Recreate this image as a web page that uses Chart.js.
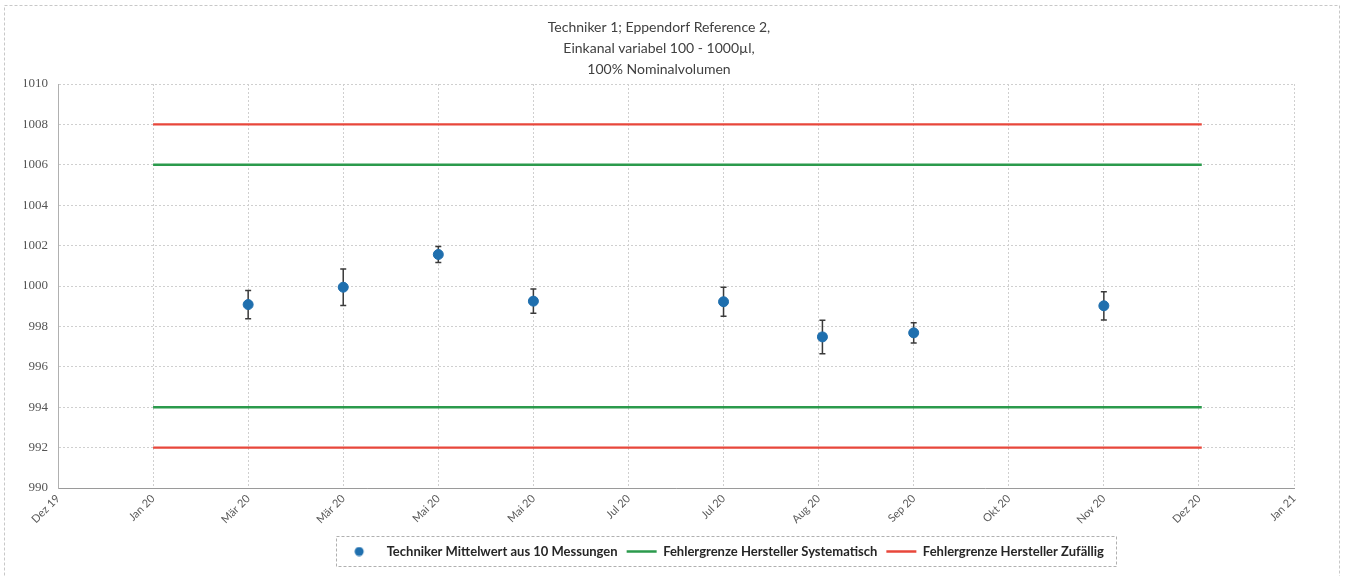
<!DOCTYPE html>
<html lang="de">
<head>
    <meta charset="UTF-8">
    <title>Techniker 1 - Eppendorf Reference 2</title>
    <style>
        body {
            margin: 0;
            padding: 0;
            background: #fff;
        }
        #chartBox {
            width: 1353px;
            height: 576px;
        }
    </style>
</head>
<body>
    <div id="chartBox">
        <canvas id="pipetteChart"></canvas>
    </div>
    <script src="https://cdn.jsdelivr.net/npm/chart.js"></script>
    <script>
        // x axis tick labels (one per major unit)
        const tickLabels = ['Dez 19', 'Jan 20', 'Mär 20', 'Mär 20', 'Mai 20', 'Mai 20', 'Jul 20',
            'Jul 20', 'Aug 20', 'Sep 20', 'Okt 20', 'Nov 20', 'Dez 20', 'Jan 21'];

        // measurement positions (in tick units) and values
        const measX = [2, 3, 4, 5, 7, 8.04, 9, 11];
        const measMean = [999.08, 999.94, 1001.56, 999.25, 999.22, 997.48, 997.68, 999.02];
        const measErr = [0.7, 0.9, 0.4, 0.6, 0.72, 0.83, 0.5, 0.7];

        // manufacturer limits
        const limitStart = 1;
        const limitEnd = 12.03;
        const sysLimits = [1006, 994];
        const randLimits = [1008, 992];

        const blue = '#1f6fae';
        const green = '#2b9a4c';
        const red = '#e8473b';

        function limitData(values) {
            const pts = [];
            values.forEach((v, i) => {
                if (i > 0) pts.push({ x: limitEnd, y: null });
                pts.push({ x: limitStart, y: v }, { x: limitEnd, y: v });
            });
            return pts;
        }

        // small round marker for the legend, drawn at the left of its box
        const dot = document.createElement('canvas');
        dot.width = 22;
        dot.height = 10;
        const dctx = dot.getContext('2d');
        dctx.fillStyle = blue;
        dctx.beginPath();
        dctx.arc(5, 5, 4.5, 0, Math.PI * 2);
        dctx.fill();

        const errorBars = {
            id: 'errorBars',
            beforeDatasetsDraw(chart) {
                const { ctx, scales } = chart;
                ctx.save();
                ctx.strokeStyle = '#3a3a3a';
                ctx.lineWidth = 1.5;
                measX.forEach((xv, i) => {
                    const x = scales.x.getPixelForValue(xv);
                    const yTop = scales.y.getPixelForValue(measMean[i] + measErr[i]);
                    const yBot = scales.y.getPixelForValue(measMean[i] - measErr[i]);
                    ctx.beginPath();
                    ctx.moveTo(x, yTop);
                    ctx.lineTo(x, yBot);
                    ctx.moveTo(x - 3, yTop);
                    ctx.lineTo(x + 3, yTop);
                    ctx.moveTo(x - 3, yBot);
                    ctx.lineTo(x + 3, yBot);
                    ctx.stroke();
                });
                ctx.restore();
            }
        };

        // legend sits right of centre in the original
        const legendShift = {
            id: 'legendShift',
            afterLayout(chart) {
                chart.legend.left += 68;
                chart.legend.right += 68;
            }
        };

        const frame = {
            id: 'frame',
            afterDraw(chart) {
                const { ctx, legend } = chart;
                ctx.save();
                ctx.strokeStyle = '#c8c8c8';
                ctx.lineWidth = 1;
                ctx.setLineDash([3, 2]);
                ctx.strokeRect(4.5, 5.5, 1335, 580);
                // box around legend items
                const boxes = legend.legendHitBoxes;
                if (boxes && boxes.length) {
                    const left = Math.min(...boxes.map(b => b.left)) + 8 - 22;
                    const right = Math.max(...boxes.map(b => b.left + b.width)) + 12;
                    const top = boxes[0].top - 9;
                    const h = boxes[0].height + 17;
                    ctx.strokeStyle = '#b0b0b0';
                    ctx.strokeRect(Math.round(left) + 0.5, Math.round(top) + 0.5, Math.round(right - left), Math.round(h));
                }
                ctx.restore();
            }
        };

        new Chart(document.getElementById('pipetteChart'), {
            type: 'scatter',
            data: {
                datasets: [
                    {
                        label: 'Techniker Mittelwert aus 10 Messungen',
                        data: measX.map((x, i) => ({ x: x, y: measMean[i] })),
                        backgroundColor: blue,
                        borderColor: blue,
                        pointRadius: 5,
                        pointStyle: 'circle'
                    },
                    {
                        label: 'Fehlergrenze Hersteller Systematisch',
                        data: limitData(sysLimits),
                        showLine: true,
                        spanGaps: false,
                        borderColor: green,
                        backgroundColor: green,
                        borderWidth: 2.5,
                        pointRadius: 0,
                        pointStyle: 'line'
                    },
                    {
                        label: 'Fehlergrenze Hersteller Zufällig',
                        data: limitData(randLimits),
                        showLine: true,
                        spanGaps: false,
                        borderColor: red,
                        backgroundColor: red,
                        borderWidth: 2.2,
                        pointRadius: 0,
                        pointStyle: 'line'
                    }
                ]
            },
            options: {
                responsive: true,
                maintainAspectRatio: false,
                animation: false,
                layout: {
                    padding: { left: 24, right: 59, top: 0, bottom: 8 }
                },
                plugins: {
                    title: {
                        display: true,
                        text: ['Techniker 1; Eppendorf Reference 2,', 'Einkanal variabel 100 - 1000µl,', '100% Nominalvolumen'],
                        color: '#404040',
                        font: { family: 'Lato', size: 14, weight: 'normal', lineHeight: 1.5 },
                        padding: { top: 17, bottom: 4 }
                    },
                    legend: {
                        position: 'bottom',
                        labels: {
                            usePointStyle: true,
                            pointStyleWidth: 30,
                            padding: 9,
                            color: '#262626',
                            font: { family: 'Lato', size: 13, weight: 'bold' },
                            generateLabels(chart) {
                                const items = Chart.defaults.plugins.legend.labels.generateLabels(chart);
                                items[0].pointStyle = dot;
                                items.forEach(it => { it.lineWidth = 2.5; });
                                return items;
                            }
                        }
                    },
                    tooltip: { enabled: false }
                },
                scales: {
                    x: {
                        type: 'linear',
                        min: 0,
                        max: 13,
                        afterFit(scale) { scale.height = 48; },
                        afterBuildTicks(scale) {
                            scale.ticks = tickLabels.map((_, i) => ({ value: i }));
                        },
                        ticks: {
                            stepSize: 1,
                            autoSkip: false,
                            maxRotation: 45,
                            minRotation: 45,
                            padding: 4,
                            color: '#595959',
                            font: { family: 'Lato', size: 11 },
                            callback: (v) => tickLabels[v]
                        },
                        grid: {
                            color: '#cfcfcf',
                            drawTicks: false
                        },
                        border: { color: '#9a9a9a', dash: [2, 2] }
                    },
                    y: {
                        min: 990,
                        max: 1010,
                        afterFit(scale) { scale.width = 34; },
                        ticks: {
                            stepSize: 2,
                            padding: 10,
                            color: '#555',
                            font: { family: 'Liberation Serif', size: 13 },
                            callback: (v) => String(v)
                        },
                        grid: {
                            color: '#cfcfcf',
                            drawTicks: false
                        },
                        border: { color: '#b0b0b0', dash: [2, 2] }
                    }
                }
            },
            plugins: [errorBars, legendShift, frame]
        });
    </script>
</body>
</html>
